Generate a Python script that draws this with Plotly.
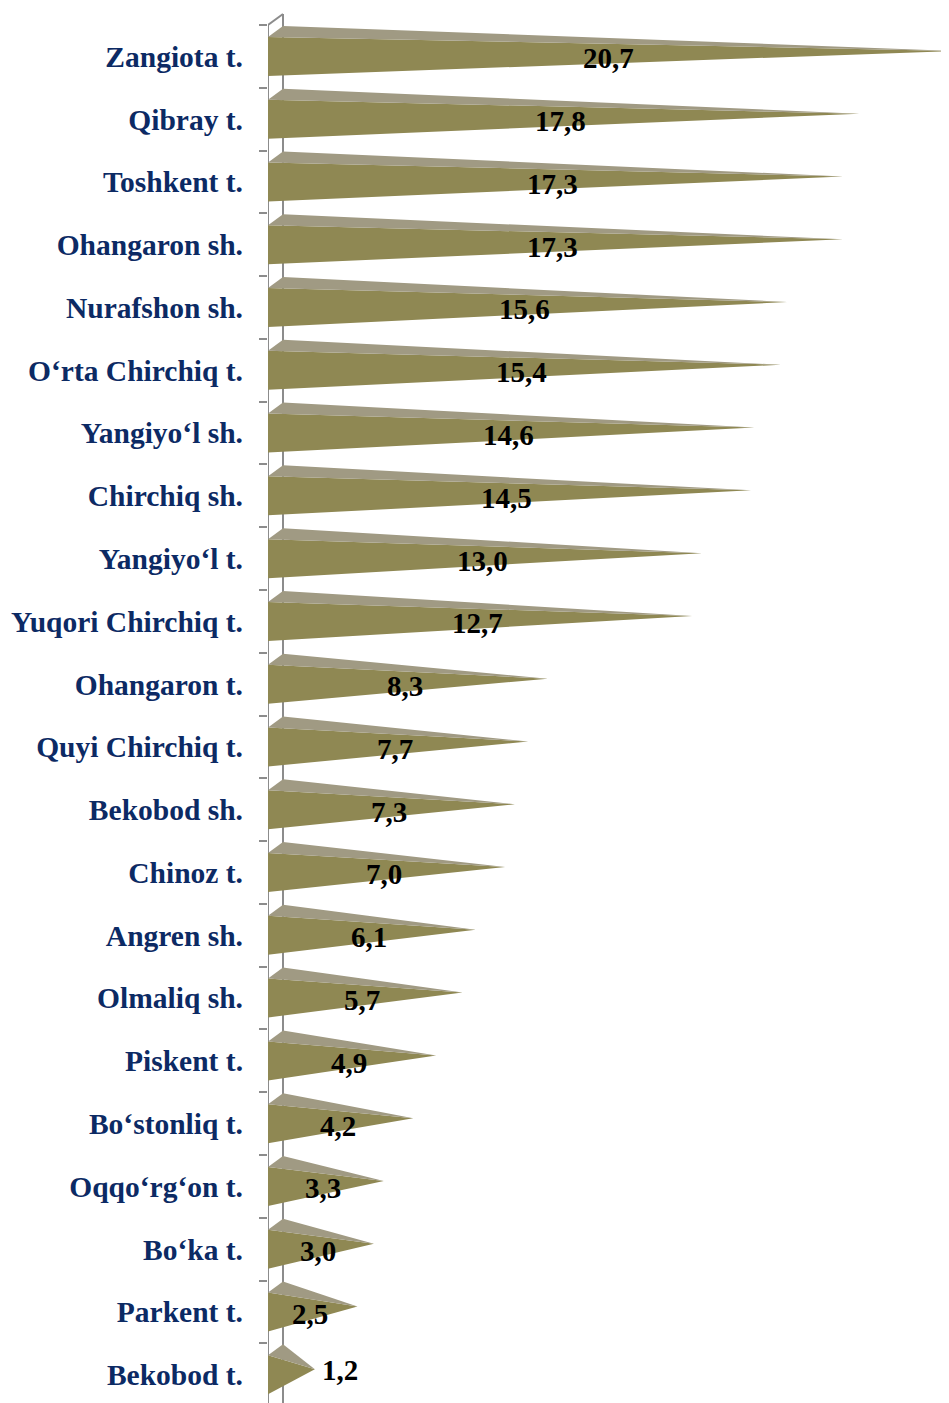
import plotly.graph_objects as go

categories = ["Zangiota t.", "Qibray t.", "Toshkent t.", "Ohangaron sh.", "Nurafshon sh.",
              "O‘rta Chirchiq t.", "Yangiyo‘l sh.", "Chirchiq sh.", "Yangiyo‘l t.",
              "Yuqori Chirchiq t.", "Ohangaron t.", "Quyi Chirchiq t.", "Bekobod sh.",
              "Chinoz t.", "Angren sh.", "Olmaliq sh.", "Piskent t.", "Bo‘stonliq t.",
              "Oqqo‘rg‘on t.", "Bo‘ka t.", "Parkent t.", "Bekobod t."]
values = [20.7, 17.8, 17.3, 17.3, 15.6, 15.4, 14.6, 14.5, 13.0, 12.7, 8.3, 7.7, 7.3,
          7.0, 6.1, 5.7, 4.9, 4.2, 3.3, 3.0, 2.5, 1.2]

# style constants (3D pyramid look)
PAGE_OFF = 8        # browser default body margin
W, H = 949 - PAGE_OFF, 1403 - PAGE_OFF
L = 268 - PAGE_OFF
SX = 32.8           # px per value unit
SY = 62.78          # px per category
Y0 = 56.4 - PAGE_OFF  # px of first category centre
DXH = 7.5 / SX      # half depth in value units
DY = 11.0 / SY      # depth vertical shift in category units
HH = 19.5 / SY      # half height of front face
DARK = "#8F8853"
LIGHT = "#A09A83"
WALL = "#8C8C8C"
LABEL_COLOR = "#0C2A64"
FONT = "Liberation Serif"

fig = go.Figure()

for i, v in enumerate(values):
    yc = i
    apex_y = yc - DY / 2
    # front (dark) face
    fig.add_trace(go.Scatter(
        x=[-DXH, -DXH, v, -DXH], y=[yc - HH, yc + HH, apex_y, yc - HH],
        mode="lines", fill="toself", fillcolor=DARK, line=dict(width=0, color=DARK),
        hoverinfo="skip", showlegend=False))
    # top (light) face
    fig.add_trace(go.Scatter(
        x=[-DXH, DXH, v, -DXH], y=[yc - HH, yc - HH - DY, apex_y, yc - HH],
        mode="lines", fill="toself", fillcolor=LIGHT, line=dict(width=0, color=LIGHT),
        hoverinfo="skip", showlegend=False))
    txt = f"{v:.1f}".replace(".", ",")
    if v < 2:
        fig.add_annotation(x=v + 0.15, y=yc - 0.08, text=txt, showarrow=False,
                           xanchor="left", yanchor="middle",
                           font=dict(family=FONT, size=29, color="black", weight="bold"))
    else:
        fig.add_annotation(x=v / 2 - 0.2, y=yc + 0.03, text=txt, showarrow=False,
                           xanchor="center", yanchor="middle",
                           font=dict(family=FONT, size=29, color="black", weight="bold"))

n = len(categories)
top = -0.5
bottom = n - 0.5 + 0.3
wall_line = dict(color=WALL, width=2)
fig.add_shape(type="line", xref="x", yref="y", x0=-DXH, x1=-DXH, y0=top, y1=bottom,
              line=wall_line, layer="below")
fig.add_shape(type="line", xref="x", yref="y", x0=DXH, x1=DXH, y0=top - DY, y1=bottom,
              line=wall_line, layer="below")
fig.add_shape(type="line", xref="x", yref="y", x0=-DXH, x1=DXH, y0=top, y1=top - DY,
              line=wall_line, layer="below")

x_max = -DXH + (W - L) / SX
y_top = -Y0 / SY
y_bot = (H - Y0) / SY

fig.update_layout(
    width=W, height=H,
    margin=dict(l=L, r=0, t=0, b=0),
    paper_bgcolor="white", plot_bgcolor="white",
    xaxis=dict(range=[-DXH, x_max], visible=False, showgrid=False, zeroline=False),
    yaxis=dict(range=[y_bot, y_top], tickmode="array", tickvals=list(range(n)),
               ticktext=categories, ticks="", showgrid=False, zeroline=False,
               showline=False, ticklabelstandoff=24,
               tickfont=dict(family=FONT, size=29.5, color=LABEL_COLOR, weight="bold"),
               minor=dict(tickmode="array", tickvals=[i - 0.5 for i in range(n + 1)],
                          ticks="outside", ticklen=8, tickwidth=2, tickcolor=WALL,
                          showgrid=False)),
)

fig.write_html("out.html")
